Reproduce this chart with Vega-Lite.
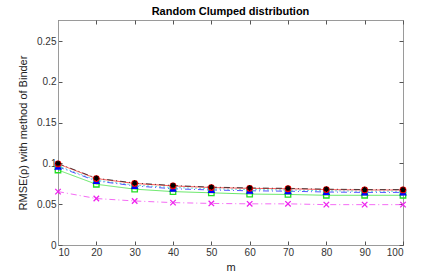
{
  "$schema": "https://vega.github.io/schema/vega-lite/v6.json",
  "autosize": "none",
  "width": 345,
  "height": 225,
  "padding": {"left": 58, "top": 20, "right": 42, "bottom": 29},
  "background": "white",
  "config": {
    "font": "Liberation Sans",
    "view": {"stroke": "#9a9a9a", "strokeWidth": 1},
    "axis": {"grid": false, "domainColor": "#9a9a9a", "tickColor": "#555555", "labelColor": "#333333", "labelFontSize": 10, "titleFontSize": 11, "titleFontWeight": "normal", "titleColor": "#222222", "tickSize": -4, "labelPadding": 6}
  },
  "title": {"text": "Random Clumped distribution", "fontSize": 11, "fontWeight": "bold", "font": "Liberation Sans", "offset": 3, "color": "#000000"},
  "data": {"values": [
    {"m": 10, "s": "green", "v": 0.0920}, {"m": 20, "s": "green", "v": 0.0745}, {"m": 30, "s": "green", "v": 0.0685}, {"m": 40, "s": "green", "v": 0.0655}, {"m": 50, "s": "green", "v": 0.0640}, {"m": 60, "s": "green", "v": 0.0625}, {"m": 70, "s": "green", "v": 0.0620}, {"m": 80, "s": "green", "v": 0.0610}, {"m": 90, "s": "green", "v": 0.0610}, {"m": 100, "s": "green", "v": 0.0610},
    {"m": 10, "s": "magenta", "v": 0.0655}, {"m": 20, "s": "magenta", "v": 0.0570}, {"m": 30, "s": "magenta", "v": 0.0540}, {"m": 40, "s": "magenta", "v": 0.0520}, {"m": 50, "s": "magenta", "v": 0.0510}, {"m": 60, "s": "magenta", "v": 0.0505}, {"m": 70, "s": "magenta", "v": 0.0505}, {"m": 80, "s": "magenta", "v": 0.0495}, {"m": 90, "s": "magenta", "v": 0.0495}, {"m": 100, "s": "magenta", "v": 0.0495},
    {"m": 10, "s": "cyan", "v": 0.0970}, {"m": 20, "s": "cyan", "v": 0.0795}, {"m": 30, "s": "cyan", "v": 0.0735}, {"m": 40, "s": "cyan", "v": 0.0705}, {"m": 50, "s": "cyan", "v": 0.0690}, {"m": 60, "s": "cyan", "v": 0.0680}, {"m": 70, "s": "cyan", "v": 0.0675}, {"m": 80, "s": "cyan", "v": 0.0665}, {"m": 90, "s": "cyan", "v": 0.0660}, {"m": 100, "s": "cyan", "v": 0.0660},
    {"m": 10, "s": "blue", "v": 0.0960}, {"m": 20, "s": "blue", "v": 0.0785}, {"m": 30, "s": "blue", "v": 0.0725}, {"m": 40, "s": "blue", "v": 0.0690}, {"m": 50, "s": "blue", "v": 0.0675}, {"m": 60, "s": "blue", "v": 0.0665}, {"m": 70, "s": "blue", "v": 0.0660}, {"m": 80, "s": "blue", "v": 0.0650}, {"m": 90, "s": "blue", "v": 0.0645}, {"m": 100, "s": "blue", "v": 0.0645},
    {"m": 10, "s": "red", "v": 0.0995}, {"m": 20, "s": "red", "v": 0.0815}, {"m": 30, "s": "red", "v": 0.0755}, {"m": 40, "s": "red", "v": 0.0725}, {"m": 50, "s": "red", "v": 0.0705}, {"m": 60, "s": "red", "v": 0.0695}, {"m": 70, "s": "red", "v": 0.0690}, {"m": 80, "s": "red", "v": 0.0680}, {"m": 90, "s": "red", "v": 0.0675}, {"m": 100, "s": "red", "v": 0.0675},
    {"m": 10, "s": "black", "v": 0.1000}, {"m": 20, "s": "black", "v": 0.0820}, {"m": 30, "s": "black", "v": 0.0760}, {"m": 40, "s": "black", "v": 0.0730}, {"m": 50, "s": "black", "v": 0.0710}, {"m": 60, "s": "black", "v": 0.0700}, {"m": 70, "s": "black", "v": 0.0695}, {"m": 80, "s": "black", "v": 0.0685}, {"m": 90, "s": "black", "v": 0.0680}, {"m": 100, "s": "black", "v": 0.0680}
  ]},
  "layer": [
    {
      "encoding": {
        "x": {"field": "m", "type": "quantitative", "scale": {"domain": [10, 100], "nice": false, "zero": false}, "axis": {"values": [10, 20, 30, 40, 50, 60, 70, 80, 90, 100], "title": "m", "titlePadding": 4}},
        "y": {"field": "v", "type": "quantitative", "scale": {"domain": [0, 0.276], "nice": false}, "axis": {"values": [0, 0.05, 0.1, 0.15, 0.2, 0.25], "format": "~g", "title": "RMSE(ρ) with method of Binder", "titlePadding": 8}},
        "stroke": {"field": "s", "type": "nominal", "legend": null, "scale": {"domain": ["green", "magenta", "cyan", "blue", "red", "black"], "range": ["#22dd22", "#ee22ee", "#22cccc", "#0000ff", "#ff0000", "#000000"]}}
      },
      "layer": [
        {
          "mark": {"type": "line", "strokeWidth": 0.9, "opacity": 0.75},
          "encoding": {
            "detail": {"field": "s"},
            "order": {"field": "m"},
            "strokeDash": {"field": "s", "type": "nominal", "legend": null, "scale": {"domain": ["green", "magenta", "cyan", "blue", "red", "black"], "range": [[1, 0], [6, 3, 1, 3], [2, 2], [6, 3, 1, 3], [1, 0], [6, 3, 1, 3]]}}
          }
        },
        {
          "mark": {"type": "point", "strokeWidth": 1.3, "size": 30, "opacity": 1},
          "encoding": {
            "fill": {"field": "s", "type": "nominal", "legend": null, "scale": {"domain": ["green", "magenta", "cyan", "blue", "red", "black"], "range": ["transparent", "transparent", "transparent", "#0000ff", "#ff0000", "transparent"]}},
            "shape": {"field": "s", "type": "nominal", "legend": null, "scale": {"domain": ["green", "magenta", "cyan", "blue", "red", "black"], "range": ["square", "M-1,-1L1,1M1,-1L-1,1", "cross", "triangle-up", "circle", "M-1,0L1,0M0,-1L0,1M-0.7,-0.7L0.7,0.7M0.7,-0.7L-0.7,0.7"]}}
          }
        }
      ]
    },
    {
      "data": {"values": [{"m": 10, "v": 0}]},
      "mark": {"type": "point", "opacity": 0},
      "encoding": {
        "x": {"field": "m", "type": "quantitative", "scale": {"domain": [10, 100], "nice": false, "zero": false}, "axis": {"orient": "top", "values": [10, 20, 30, 40, 50, 60, 70, 80, 90, 100], "labels": false, "title": null, "domain": false}},
        "y": {"field": "v", "type": "quantitative", "scale": {"domain": [0, 0.276], "nice": false}, "axis": {"orient": "right", "values": [0, 0.05, 0.1, 0.15, 0.2, 0.25], "labels": false, "title": null, "domain": false}}
      }
    }
  ],
  "resolve": {"scale": {"x": "independent", "y": "independent"}, "axis": {"x": "independent", "y": "independent"}}
}
